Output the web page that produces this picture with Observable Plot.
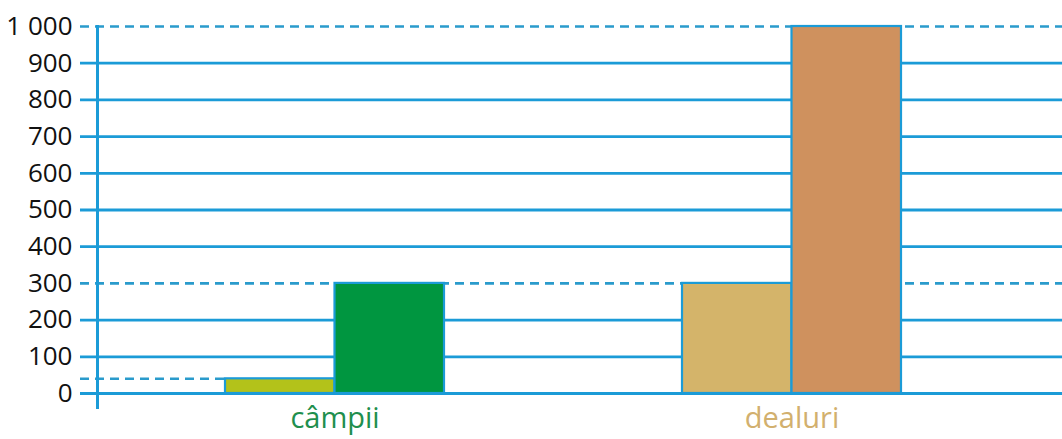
<!DOCTYPE html>
<html>
<head>
<meta charset="utf-8">
<script src="https://cdn.jsdelivr.net/npm/d3@7"></script>
<script src="https://cdn.jsdelivr.net/npm/@observablehq/plot@0.6"></script>
<style>
  html, body { margin: 0; padding: 0; background: #fff; }
  #chart svg { display: block; }
</style>
</head>
<body>
<div id="chart"></div>
<script>
// Data
const categories = ["câmpii", "dealuri"];
const firstValues = [40, 300];     // left bar of each group
const secondValues = [300, 1000];  // right bar of each group
const firstColors = ["#b3c21a", "#d4b46a"];
const secondColors = ["#009640", "#cf915e"];
const labelColors = ["#1f8f4e", "#d2b06e"];
const yTicks = [0, 100, 200, 300, 400, 500, 600, 700, 800, 900, 1000];
const solidGrid = [0, 100, 200, 400, 500, 600, 700, 800, 900];
const dashedGrid = [300, 1000];
const dashedShort = [40];

const first = categories.map((c, i) => ({cat: c, value: firstValues[i], color: firstColors[i]}));
const second = categories.map((c, i) => ({cat: c, value: secondValues[i], color: secondColors[i]}));
const labels = categories.map((c, i) => ({cat: c, color: labelColors[i]}));

const W = 1062;
const xRange = [225, 901];
const blue = "#1b9bd7";
const dashBlue = "#2a9bcc";
const font = "'Open Sans', 'Noto Sans', sans-serif";
const fmt = d => d3.format(",")(d).replace(/,/g, " ");

const chart = Plot.plot({
  width: W,
  height: 439,
  marginLeft: 97,
  marginRight: 0,
  marginTop: 26,
  marginBottom: 32,
  style: {fontFamily: font, fontSize: "26px", color: "#111", background: "#fff"},
  x: {domain: categories, range: xRange, paddingInner: 0.5208, paddingOuter: 0, axis: null},
  y: {domain: [0, 1000], insetBottom: 14, axis: null},
  marks: [
    Plot.ruleY(solidGrid, {stroke: blue, strokeWidth: 2.8, insetLeft: -17}),
    Plot.ruleY(dashedGrid, {stroke: dashBlue, strokeWidth: 2.6, strokeDasharray: "9,6", insetLeft: -17}),
    Plot.ruleY(dashedShort, {stroke: dashBlue, strokeWidth: 2.6, strokeDasharray: "9,6", insetLeft: -17, insetRight: W - xRange[0]}),
    Plot.barY(first, {x: "cat", y: "value", fill: "color", stroke: blue, strokeWidth: 2.2, insetRight: 109.5}),
    Plot.barY(second, {x: "cat", y: "value", fill: "color", stroke: blue, strokeWidth: 2.2, insetLeft: 109.5}),
    Plot.frame({anchor: "left", stroke: blue, strokeWidth: 3}),
    Plot.axisY({ticks: yTicks, tickSize: 0, tickPadding: 25, fontSize: 26, fontWeight: 500, fill: "#111", label: null, tickFormat: fmt}),
    Plot.text(labels, {x: "cat", text: "cat", fill: "color", frameAnchor: "bottom", lineAnchor: "top", dy: 0, fontSize: 29})
  ]
});
document.getElementById("chart").appendChild(chart);
</script>
</body>
</html>
